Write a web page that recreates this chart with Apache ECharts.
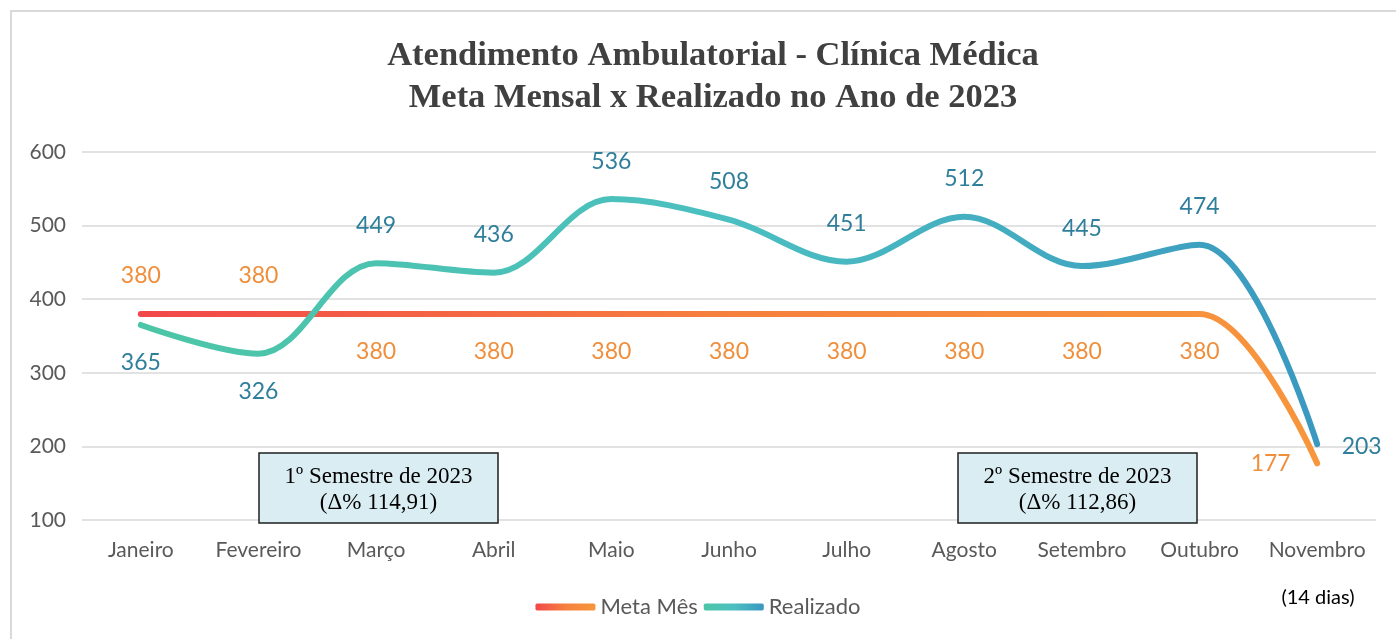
<!DOCTYPE html>
<html>
<head>
<meta charset="utf-8">
<script src="https://cdn.jsdelivr.net/npm/echarts@6/dist/echarts.min.js"></script>
<style>
html,body{margin:0;padding:0;background:#fff;}
#c{width:1396px;height:639px;}
</style>
</head>
<body>
<div id="c"></div>
<script>
const categories = ['Janeiro','Fevereiro','Março','Abril','Maio','Junho','Julho','Agosto','Setembro','Outubro','Novembro'];
const metaMes = [380,380,380,380,380,380,380,380,380,380,177];
const realizado = [365,326,449,436,536,508,451,512,445,474,203];
const metaLabelPos = ['top','top','bottom','bottom','bottom','bottom','bottom','bottom','bottom','bottom','left'];
const realLabelPos = ['bottom','bottom','top','top','top','top','top','top','top','top','right'];
const yTicks = [100,200,300,400,500,600];

const chart = echarts.init(document.getElementById('c'));
const labelFont = 'Lato';

function mkData(vals, poss) {
  return vals.map((v, i) => {
    const p = poss[i];
    const lab = {position: p};
    if (p === 'left') { lab.offset = [0, 0]; }
    if (p === 'right') { lab.offset = [-2, 2]; }
    return {value: v, label: lab};
  });
}

const metaGrad = () => new echarts.graphic.LinearGradient(0, 0, 1, 0, [
  {offset: 0, color: '#f2474a'}, {offset: 0.5, color: '#f6803d'}, {offset: 1, color: '#f7963d'}]);
const realGrad = () => new echarts.graphic.LinearGradient(0, 0, 1, 0, [
  {offset: 0, color: '#4cc6a6'}, {offset: 0.5, color: '#4bbfc1'}, {offset: 1, color: '#3a98c0'}]);

const option = {
  backgroundColor: '#fff',
  animation: false,
  title: {
    text: 'Atendimento Ambulatorial - Clínica Médica\nMeta Mensal x Realizado no Ano de 2023',
    left: 708, top: 30, textAlign: 'center',
    textStyle: {fontFamily: 'Liberation Serif', fontWeight: 'bold', fontSize: 34.5, color: '#404040', lineHeight: 42}
  },
  grid: {left: 82, right: 20, top: 152, bottom: 119, containLabel: false},
  xAxis: {
    type: 'category', data: categories, boundaryGap: true,
    axisLine: {show: false}, axisTick: {show: false},
    axisLabel: {fontFamily: labelFont, fontSize: 21, color: '#595959', margin: 20, interval: 0}
  },
  yAxis: {
    type: 'value', min: yTicks[0], max: yTicks[yTicks.length-1], interval: 100,
    axisLine: {show: false}, axisTick: {show: false},
    axisLabel: {fontFamily: labelFont, fontSize: 21, color: '#595959', margin: 16},
    splitLine: {lineStyle: {color: '#d9d9d9', width: 1.5}}
  },
  legend: {
    bottom: 16, left: 'center', itemWidth: 60, itemHeight: 7, itemGap: 6,
    icon: 'roundRect',
    textStyle: {fontFamily: labelFont, fontSize: 22, color: '#595959'},
    data: [
      {name: 'Meta Mês', itemStyle: {color: metaGrad(), opacity: 1}},
      {name: 'Realizado', itemStyle: {color: realGrad(), opacity: 1}}
    ]
  },
  series: [
    {
      name: 'Meta Mês', type: 'line', smooth: 0.35,
      data: mkData(metaMes, metaLabelPos),
      symbol: 'circle', symbolSize: 1,
      itemStyle: {color: '#f5913d', opacity: 0},
      lineStyle: {width: 6, cap: 'round', color: metaGrad()},
      label: {show: true, fontFamily: labelFont, fontSize: 23, color: '#ef8f3c', distance: 26, opacity: 1},
      z: 3
    },
    {
      name: 'Realizado', type: 'line', smooth: 0.35,
      data: mkData(realizado, realLabelPos),
      symbol: 'circle', symbolSize: 1,
      itemStyle: {color: '#3f9fc0', opacity: 0},
      lineStyle: {width: 6, cap: 'round', color: realGrad()},
      label: {show: true, fontFamily: labelFont, fontSize: 23, color: '#2f7f9b', distance: 26, opacity: 1},
      z: 4
    }
  ],
  graphic: [
    {type: 'rect', shape: {x: 11, y: 11, width: 1400, height: 640},
     style: {fill: 'none', stroke: '#d9d9d9', lineWidth: 2}, z: 0, silent: true},
    {type: 'rect', shape: {x: 259, y: 453, width: 239, height: 70},
     style: {fill: '#daedf3', stroke: '#1f1f1f', lineWidth: 1.5}, z: 10},
    {type: 'text', x: 378.5, y: 490, z: 11,
     style: {text: '1º Semestre de 2023\n(Δ% 114,91)', fontFamily: 'Liberation Serif', fontSize: 23,
       lineHeight: 26, fill: '#000', align: 'center', verticalAlign: 'middle'}},
    {type: 'rect', shape: {x: 958, y: 453, width: 239, height: 70},
     style: {fill: '#daedf3', stroke: '#1f1f1f', lineWidth: 1.5}, z: 10},
    {type: 'text', x: 1077.5, y: 490, z: 11,
     style: {text: '2º Semestre de 2023\n(Δ% 112,86)', fontFamily: 'Liberation Serif', fontSize: 23,
       lineHeight: 26, fill: '#000', align: 'center', verticalAlign: 'middle'}},
    {type: 'text', x: 1318, y: 598, z: 11,
     style: {text: '(14 dias)', fontFamily: labelFont, fontSize: 20, fill: '#000', align: 'center', verticalAlign: 'middle'}}
  ]
};
chart.setOption(option);
</script>
</body>
</html>
